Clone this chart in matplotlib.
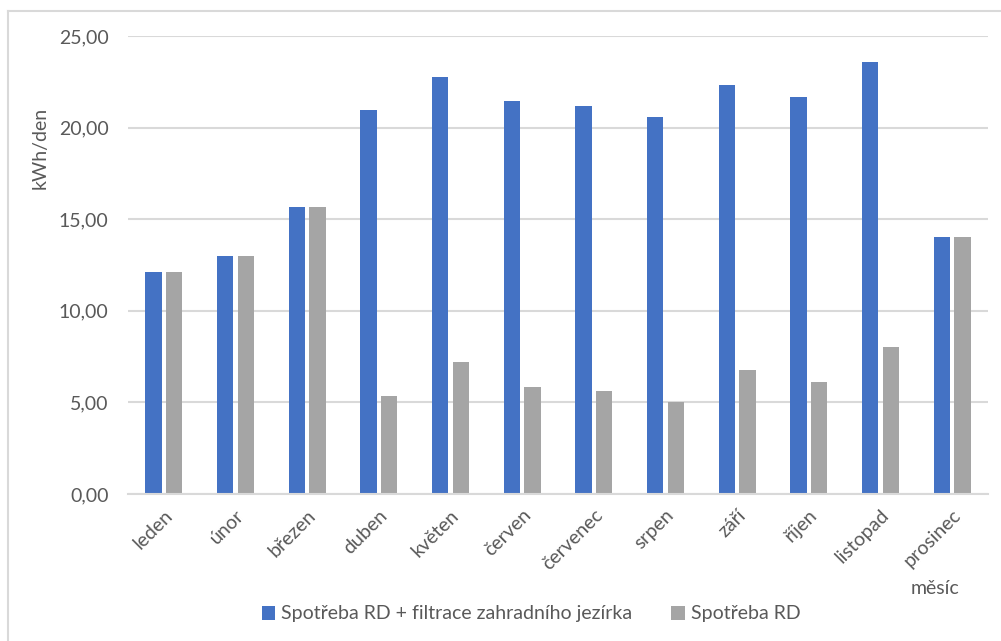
import matplotlib
matplotlib.use("Agg")
import matplotlib.pyplot as plt
from matplotlib.patches import Patch
from matplotlib.lines import Line2D
from matplotlib.ticker import FuncFormatter
import numpy as np

plt.rcParams['font.family'] = ['Lato', 'DejaVu Sans']

months = ["leden", "únor", "březen", "duben", "květen", "červen",
          "červenec", "srpen", "září", "říjen", "listopad", "prosinec"]
with_pond = [12.10, 13.00, 15.65, 20.96, 22.76, 21.43, 21.20, 20.60, 22.34, 21.67, 23.60, 14.03]
house_only = [12.10, 13.00, 15.65, 5.35, 7.19, 5.86, 5.62, 5.04, 6.77, 6.11, 8.02, 14.03]
series_names = ["Spotřeba RD + filtrace zahradního jezírka", "Spotřeba RD"]
y_ticks = [0, 5, 10, 15, 20, 25]

BLUE = "#4472C4"
GRAY = "#A5A5A5"
TEXT = "#595959"
LINE = "#D9D9D9"

W, H = 1001, 641
fig = plt.figure(figsize=(W / 100, H / 100), dpi=100)
ax = fig.add_axes([128 / W, (H - 494) / H, 860 / W, 458 / H])

x = np.arange(len(months))
bw = 0.23
off = 0.145
ax.bar(x - off, with_pond, bw, color=BLUE, zorder=3)
ax.bar(x + off, house_only, bw, color=GRAY, zorder=3)

ax.set_xlim(-0.5, len(months) - 0.5)
ax.set_ylim(0, 25)
ax.set_yticks(y_ticks)
ax.yaxis.set_major_formatter(FuncFormatter(lambda v, p: f"{v:.2f}".replace(".", ",")))
ax.grid(axis="y", color=LINE, linewidth=1.5, zorder=0)
ax.set_axisbelow(True)
for s in ["top", "right", "left"]:
    ax.spines[s].set_visible(False)
ax.spines["bottom"].set_color(LINE)
ax.spines["bottom"].set_linewidth(1.5)
ax.spines["bottom"].set_zorder(4)
ax.tick_params(axis="both", length=0, colors=TEXT, labelsize=14)
ax.tick_params(axis="y", pad=14)
ax.set_xticks(x)
ax.set_xticklabels(months, rotation=45, ha="right", va="top", rotation_mode="anchor")
ax.tick_params(axis="x", pad=9)

fig.text(40 / W, 1 - 148 / H, "kWh/den", rotation=90, ha="center", va="center",
         color=TEXT, fontsize=14)
fig.text(935 / W, 1 - 588 / H, "měsíc", ha="center", va="center",
         color=TEXT, fontsize=14)

handles = [Patch(facecolor=BLUE), Patch(facecolor=GRAY)]
fig.legend(handles, series_names, loc="center", bbox_to_anchor=(531 / W, 1 - 614 / H),
           ncol=2, frameon=False, fontsize=14, labelcolor=TEXT,
           handlelength=0.7, handleheight=0.7, handletextpad=0.3, columnspacing=2.0)

# chart frame
fig.add_artist(Line2D([8 / W, 8 / W], [0, 1 - 11 / H], transform=fig.transFigure,
                      color=LINE, linewidth=1.5))
fig.add_artist(Line2D([8 / W, 1], [1 - 11 / H, 1 - 11 / H], transform=fig.transFigure,
                      color=LINE, linewidth=1.5))

fig.savefig("out.png", dpi=100, facecolor="white")
